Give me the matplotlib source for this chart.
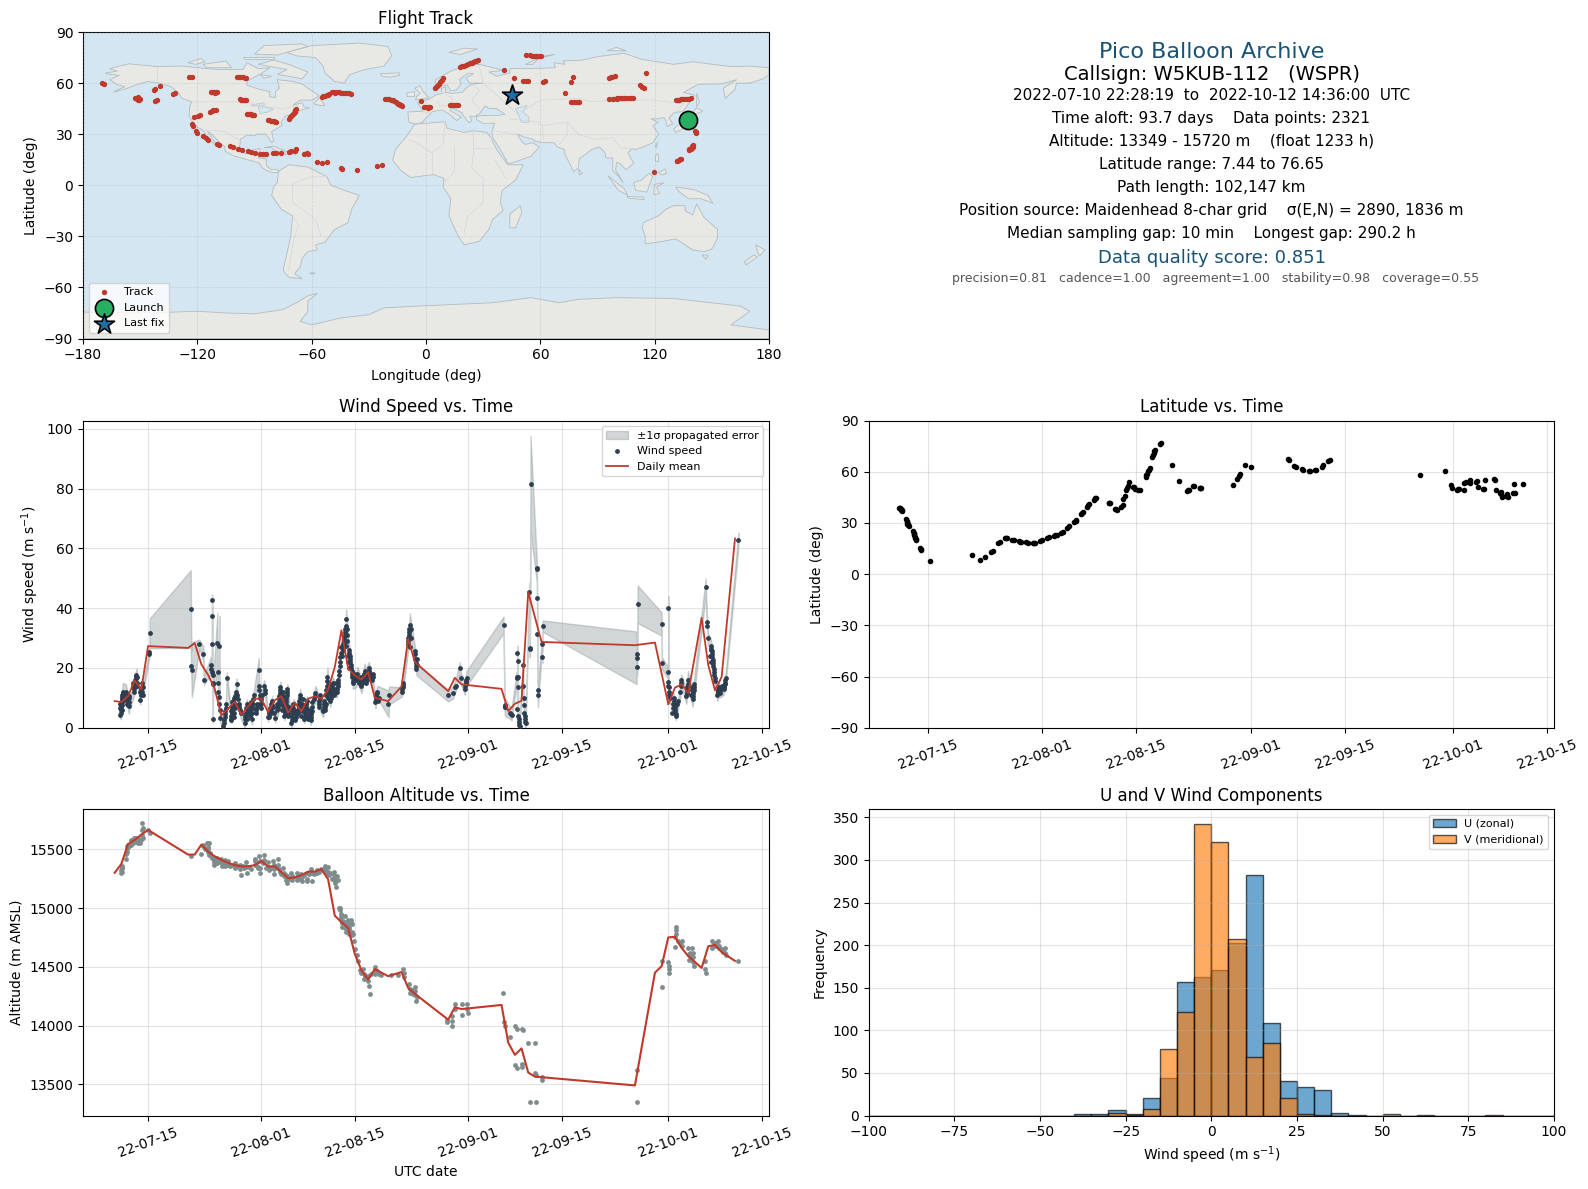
import datetime as dt
import numpy as np
import matplotlib
matplotlib.use('Agg')
import matplotlib.pyplot as plt
import matplotlib.dates as mdates

# --- Configuration ---
W, H = 1588, 1189
BASE = mdates.date2num(dt.datetime(2022, 7, 15))  # all time values are days since this date
RED = '#c0392b'
NAVY = '#2c3e50'
GREY = '#7f8c8d'
TITLE_BLUE = '#1a5276'

# --- Map outlines (lon, lat) ---
north_america = [(-168,66),(-162,67),(-166,68.5),(-156,71.3),(-141,69.7),(-128,70),(-115,68.5),(-108,68),(-96,68),(-94,72),(-88,68.5),(-82,69),(-86,66),(-94,61),(-94,58.8),(-88,56.5),(-82,55),(-82,52),(-79,51.5),(-79,55),(-77,57),(-78,62),(-70,61),(-65,59.5),(-62,57),(-56,52.5),(-60,50),(-66,50),(-70,47),(-65,48.5),(-64,46),(-61,45.5),(-66,44),(-70,43.5),(-70,41.7),(-74,40.5),(-76,37),(-75.5,35.2),(-81,31.5),(-80,26),(-81,25),(-82.8,28),(-84,30),(-89,30),(-90,29),(-94,29.5),(-97.3,27),(-97.8,22.5),(-95,18.5),(-91,18.7),(-90.5,21),(-87,21.5),(-88,16),(-84,15.5),(-83.5,11),(-81,9),(-79,9.5),(-77.3,8.5),(-78,7.3),(-80.5,7.5),(-83,8.3),(-85.7,10),(-87.5,13),(-92,14.5),(-96,15.7),(-101,17.3),(-105.5,20),(-105.5,22.5),(-109,26),(-112.5,30),(-114.7,31.7),(-112,27),(-109.7,23),(-112,25),(-115,29),(-117.2,32.5),(-120.6,34.5),(-122.5,37.5),(-124.3,40.3),(-124,46),(-123,49),(-128,51),(-130,54.5),(-134,58),(-140,60),(-146,61),(-152,59),(-158,56.5),(-164,54.7),(-158,58),(-162,59),(-166,62),(-161,64.5),(-168,65.5)]
south_america = [(-77,8.5),(-72,12),(-62,10.7),(-52,5),(-50,0),(-44,-2.5),(-35,-6),(-39,-14),(-41,-22),(-48,-26),(-53,-33.5),(-58,-35),(-57,-38),(-62,-39),(-65,-43),(-66,-48),(-69,-52),(-65,-55),(-72,-54),(-75,-50),(-73,-40),(-71,-30),(-70,-18),(-76,-14),(-81,-6),(-80,-1),(-78,2),(-77.5,7)]
africa = [(-6,35.8),(10,37.3),(11,33.5),(20,31),(25,32),(32,31),(34,28),(37,21),(43,12),(51,12),(47,3),(40,-3),(39,-10),(40.5,-15),(35,-20),(33,-26),(28,-33),(20,-35),(17,-30),(12,-18),(13,-8),(9,-1),(9.5,4),(4,6.3),(-8,4.5),(-13,8.5),(-17.5,14.7),(-16,21),(-10,29)]
eurasia = [(-9,37),(-9.5,43),(-1.5,43.5),(-4.5,48.5),(1.5,50.5),(5,53),(8.5,54),(8,57),(10.5,57.5),(10,54.5),(14,54),(19,54.5),(21,57),(24,59.3),(30,60),(23,60),(21,63),(25,65.5),(22,65.8),(17.5,62),(18.5,59.5),(16,56),(13,55.5),(11,59),(8,58),(5,60),(5,62),(13,67),(20,70),(28,71),(41,67.5),(33,66.5),(37,64),(44,66),(44,68.5),(55,68.5),(68,69),(67,72),(73,71),(72,73),(82,73.5),(90,75.5),(104,77.5),(113,74),(130,71),(140,72.5),(160,69.7),(170,70),(180,69),(180,65),(177,62.5),(170,60),(163,60),(162,56),(157,51),(156,57),(163,62),(155,59.5),(143,59.3),(135,54.5),(141,53),(135,43.5),(130,42.5),(127.5,39.5),(129.5,36),(126.5,34.5),(126,37.5),(125,39.7),(121,39),(118,39),(122,37),(119,35),(122,30),(119,25),(114,22.5),(110,21),(108,21.5),(106,19),(109,13),(105,9),(102,12.5),(100,13.5),(99.5,9),(103.5,1.5),(100.5,6),(98,8.5),(98,16),(94.5,16),(94,19),(91,22.5),(87,21),(80.5,15.5),(79.8,10),(77.5,8),(73,18),(72.5,21),(69,22.5),(67,25),(61.5,25),(57,26),(56,27),(51,28.5),(48,30),(50,26),(52,24),(56,25),(59.5,22.5),(55,17),(45,13),(43,13),(39,21),(35,28),(34.5,31),(36,36.5),(30,36.3),(26.5,38.5),(26.5,40.5),(31,41),(38,41),(41.5,41.7),(37,45),(33.5,45),(31,46.5),(28,42),(26,40.5),(23,40.5),(24,38),(22.5,36.7),(19.5,41),(19,42.5),(13.5,45.5),(12.5,44),(18.5,40),(16,38),(12,42),(8.5,44.2),(3.5,43.3),(0,39.5),(-2,36.8),(-5.5,36)]
australia = [(114,-22),(122,-18),(126,-14),(130,-12),(136,-12),(136,-15),(140,-17.5),(142,-11),(146,-19),(153,-26),(153,-31),(150,-37.5),(146,-39),(140,-38),(136,-35),(131,-31.5),(124,-33),(115,-34.5),(115,-30),(113.5,-25)]
antarctica = [(-180,-90),(-180,-74.5),(-145,-75),(-120,-74),(-105,-75),(-90,-75.5),(-75,-73),(-68,-69),(-62,-65),(-57,-63.5),(-62,-68),(-62,-74),(-66,-80),(-60,-82),(-45,-78),(-30,-76),(-22,-72),(-5,-71),(15,-70),(35,-69),(55,-66),(70,-69),(80,-67),(100,-66),(130,-66.5),(165,-71),(170,-74),(165,-78),(160,-82),(180,-85),(180,-90)]
greenland = [(-73,78),(-60,82),(-35,83.5),(-20,81.5),(-18,76),(-22,70),(-32,68),(-40,65),(-43,60),(-48,61),(-53,66),(-54,70),(-58,75),(-68,76)]
islands = [
    [(-80,73.5),(-72,71),(-62,66.5),(-65,62.5),(-72,64),(-78,65),(-73,68),(-88,71)],
    [(-117,71),(-105,73),(-102,69),(-115,69)],
    [(-90,77),(-85,82),(-65,83),(-62,81.5),(-78,76.5)],
    [(-125,72),(-118,74.5),(-116,72.5),(-121,71)],
    [(-96,75.5),(-80,75.5),(-80,74),(-95,74)],
    [(-59,47.7),(-56,51.5),(-53,47),(-55,46.8)],
    [(-87,65),(-81,64),(-85,62.8)],
    [(-85,22),(-80,23),(-74,20.2),(-78,19.9),(-82,22.5)],
    [(-74,19.8),(-69,19.5),(-68.5,18.3),(-74,18)],
    [(-5.5,50),(1.5,51.3),(-1.5,55),(-3,58.5),(-6,57),(-3,54),(-5,52)],
    [(-10,52),(-6,52.2),(-6,55),(-10,54.3)],
    [(-24,65.5),(-14,66),(-14,64.5),(-19,63.5),(-23,64)],
    [(52,71),(58,74),(68,77),(60,75.5),(56,71)],
    [(12,78),(20,80.5),(27,80),(18,76.8)],
    [(95,79),(105,79),(100,81)],
    [(142,54),(143.5,49),(142,46),(142,50)],
    [(130,33),(132,35.3),(137,37),(140,40),(141.5,41),(142,39),(140.5,35.5),(136,33.8),(131,31)],
    [(140,43),(142,45.5),(145.3,43.5),(142,42)],
    [(120.3,23),(121.5,25.2),(121,22)],
    [(120.3,16),(121,18.5),(122,18),(122,14),(120.5,14)],
    [(122,7.5),(125.5,9.5),(126.3,7),(124,6)],
    [(109,1.5),(113,3),(117,7),(119,5),(117.5,1),(116,-4),(110,-3)],
    [(95.5,5.5),(104,-2),(106,-6),(101,-3)],
    [(105.5,-6.5),(114,-7),(114.5,-8.5),(106,-7.5)],
    [(119.5,-5.5),(119.8,0.5),(125,1.5),(121,-1),(122.5,-5)],
    [(131,-1),(141,-2.7),(148,-6),(150.5,-10.5),(144,-7.8),(138,-8),(133,-4)],
    [(145,-41),(148,-41),(147,-43.5)],
    [(173,-35),(178,-38),(175,-41.5),(174,-39)],
    [(172,-41),(174,-42),(168,-46.7),(167,-45)],
    [(49.5,-12),(50.3,-16),(47,-25),(44,-25),(44,-17)],
    [(80,9.5),(82,7),(80.5,6)],
    [(-61,-51.5),(-58,-51.5),(-60,-52.3)],
]
lakes = [
    [(47,45),(53,47),(51,43),(54,40),(54,37),(50,37),(49,40)],
    [(-92,47),(-85,48.5),(-85,46.8),(-90,46.5)],
    [(-88,46),(-84,46),(-80,44.5),(-83,43),(-87,42)],
]
borders = [
    [(-141,69.7),(-141,60)], [(-123,49),(-95,49),(-83,46),(-75,45),(-67,47)],
    [(-117,32.5),(-106,31.7),(-97,26)], [(-70,-18),(-67,-23),(-70,-35),(-72,-50)],
    [(-52,5),(-60,5),(-70,1),(-70,-10),(-58,-20),(-55,-30)], [(-2,43),(3,42.5)],
    [(6,49),(7,47),(13,47),(14,51),(8,54.5)], [(24,59),(28,56),(24,50),(28,45)],
    [(28,70),(30,60),(40,50),(48,42)], [(48,42),(60,50),(80,51),(87,49),(98,50),(118,50),(135,48),(131,43)],
    [(74,37),(80,30),(88,27),(98,28),(102,22),(108,21.5)], [(62,25),(61,35),(74,37),(74,30),(70,24)],
    [(25,32),(25,20),(24,10),(30,4),(30,-10),(22,-18),(20,-28)], [(10,37),(9,24),(3,19),(-5,25),(-9,27)],
    [(3,19),(3,6)], [(15,23),(15,8),(10,2)], [(34,22),(25,22)], [(36,15),(42,4)],
    [(36,32),(46,30),(48,30)], [(44,39),(60,37),(61,35)],
]

# --- Track (lon, lat), launch and last fix ---
track_lon = [141.8,141.5,141.3,139.9,139.4,138.9,138.4,137.8,133.8,132.8,131.8,119.8,
             -23,-25.7,-36.2,-44.7,-44.3,-54.8,-52,-57.4,-61.8,-64,-62.5,-68,-68.5,-72,-70.6,-76,-78.6,-80.5,-83.9,-85.5,-87,-89.5,-91.8,-93.5,-96.5,-98.4,-102.9,-101.5,-109.5,-108.5,-115.6,-114.5,-116.8,-120.4,-120.9,-122.2,-122.6,-121.6,-119.5,-118.7,-111.6,-112.5,-110.3,-113.3,
             -169.8,-168.8,-152.6,-151.3,-150,-150.9,-142,-141,-142,-142.5,-139.4,-132.8,-131.8,-124.3,-123,
             -112.7,-111.5,-110.5,-109.5,-99,-97.5,-96,-94.4,-97.6,-96.5,-95.5,-94.4,-94,-92.5,-91.5,-90.5,
             -83,-81.5,-80,-78.6,-72,-71,-70,-69,-68,-54.8,-53,-51.5,-50.8,-49.5,-47.5,-45.5,-43.5,-41.5,-39.4,
             -21.7,-19.5,-17.5,-16,-14.5,-13.5,-12.4,-2.4,-0.5,1,2.1,12.7,14,15.5,16.7,4.8,5.8,6.8,7.8,8.7,18,20,22,24,25.5,27.2,
             41,46.3,51,52.3,53.7,52.4,54.5,56.5,58.5,60.3,61.6,62.2,72.8,76.2,77,76.2,77.8,79.2,80.2,
             96,97.5,99.2,96,98,100,102,104,106.5,108.7,112.4,113.5,114.5,115.3,131.2,133,135,137,138.9,
             -111.9,-110,-98,-95.2,-97,-95,-93.2,-92,-91,-82.2,-80.8,-79.3,-71.5,-70.5,-69.5,-68.5,-54,-52,-48.5,-46.5,-44.5,-42.5,-40.5,-20.5,-18.5,-16.7,-15.2,-14,-13,5.3,6.3,7.3,8.2,19,21,23,24.7,26.3,55.5,57.5,59.4,97,98,100,101,103,105,107.5,132,134,136,138,-151.8,-150.5,13.3,14.8,16,-1,0.3,1.5,
             141.9,140,139.6,138.2,133.3,131.9]
track_lat = [30.5,31.2,32,22.6,22,21.4,21,20.7,15.7,15,14.4,7.5,
             11.8,11.4,8.7,10.2,9.7,13.1,13.4,13.9,18.6,18.6,19,21,20.2,19.7,20,19,19,18.8,18.6,18.3,18.2,18.8,19.4,20,20.7,21,22.9,22.3,24,23.6,27.5,26.7,28.8,30.7,31.8,34.6,36,40,40.6,41.2,44,43.6,44.4,43.2,
             60,59.6,51,50.2,50.5,52,49.5,49.8,56.5,55.8,58.4,53.4,54.3,63.7,63.7,
             55,54.6,54.2,54.8,63.7,63.5,63.3,63.2,50.5,50.2,50,49.8,41.8,41.6,41.5,41.4,
             38.5,38,37.5,37.1,39.2,40.5,41.8,43.3,45,51.8,52.5,53,53.7,54.9,54.2,54.8,54,54.4,53.7,
             50.9,50.5,49.8,49,48,47.3,46.5,49.2,45.7,45.6,45.7,47.3,47,47.2,47.3,56.9,58.3,59.7,61.2,62.7,69.4,70.3,71.2,72,72.7,73.3,
             67.4,63.1,61.4,61.3,61.4,76.6,76.2,76,75.9,75.8,60.4,61,54.3,60.8,63.7,48.9,49,48.9,48.9,
             63.2,63.6,64.1,50.9,50.7,51,51.2,51.3,51.2,51.4,58.7,57.9,57.1,65.9,50.2,50.3,50.5,50.7,51,
             54.8,54.5,63.6,63.2,50.3,50.1,41.7,41.6,41.4,38.2,37.7,37.3,39.8,41.2,42.5,44.2,52.2,52.8,54.5,54.5,54.2,54.2,54,50.7,50.1,49.4,48.5,47.7,46.9,57.6,59,60.5,62,69.8,70.8,71.6,72.3,73,76.1,76,75.8,63.4,50.8,50.9,51.1,51.2,51.3,51.3,50.2,50.4,50.6,50.9,50.6,50.3,47.1,47.1,47.2,45.7,45.7,45.7,
             31,23.5,22.9,21,15.3,14.3]
launch_lon, launch_lat = [137.3], [38.5]
last_lon, last_lat = [45.0], [53.0]

# --- Wind speed samples: time, speed, 1 sigma ---
wind_t = [-4.15,-4.12,-4.09,-4.06,-4.03,-4.0,-3.96,-3.92,-3.88,-3.83,-3.78,-3.72,
          -3.3,-3.22,-3.15,-3.08,-3.0,-2.93,-2.86,-2.78,
          -2.12,-2.06,-2,-1.95,-1.9,-1.85,-1.8,-1.74,
          -1.16,-1.1,-1.05,-1,-0.95,-0.9,-0.84,
          0.18,0.22,0.26,
          6.4,6.5,6.56,
          7.7,8.3,8.38,9.45,9.5,
          9.55,9.6,9.62,9.65,9.68,9.72,9.76,9.8,
          10.4,10.45,10.5,10.55,10.6,10.65,10.7,10.75,10.8,
          11.3,11.4,11.45,11.5,11.55,11.6,11.65,11.7,11.8,
          12.5,12.58,12.65,12.72,12.78,12.85,
          13.1,13.2,13.3,13.4,13.5,13.6,13.7,13.8,13.9,
          14.5,14.55,14.6,14.65,14.7,14.8,
          15.6,15.65,15.7,15.75,15.8,15.9,
          16.6,16.65,16.7,16.75,16.8,16.85,17.4,17.5,17.6,
          18.0,18.15,18.3,18.45,18.6,18.75,18.9,19.05,
          19.5,19.55,19.6,19.65,19.7,19.75,19.8,19.85,
          20.4,20.5,20.55,20.6,20.65,20.7,20.75,20.8,20.85,20.9,
          21.5,21.55,21.6,21.65,21.7,21.75,21.8,
          22.5,22.55,22.6,22.65,22.7,22.75,22.8,
          23.4,23.5,23.55,23.6,23.65,23.7,23.8,
          24.4,24.45,24.5,24.55,24.6,24.65,24.9,25,25.1,
          26.2,26.3,26.35,26.4,26.45,26.7,26.75,26.8,26.85,26.9,
          27.3,27.4,27.45,27.5,27.55,27.6,27.7,
          28.3,28.4,28.45,28.5,28.55,28.6,28.7,28.75,28.8,28.85,28.9,28.95,
          29.3,29.35,29.4,29.45,29.5,29.55,29.6,29.65,29.7,
          30.1,30.2,30.25,30.3,30.35,30.4,30.5,30.55,30.6,30.65,30.7,
          31.2,31.3,31.4,
          32.0,32.1,32.2,32.3,32.4,32.5,32.6,
          33.1,33.2,33.3,33.4,33.5,33.6,
          34.1,34.15,34.2,34.25,34.3,34.4,
          36.05,36.15,
          38.1,38.15,38.2,38.25,38.3,
          38.95,39,39.05,39.1,39.15,39.2,39.25,
          40,40.05,40.1,40.15,40.2,40.25,
          45,45.7,46,46.1,46.75,46.85,
          47.5,47.55,47.6,47.65,47.7,47.75,
          53.3,53.45,53.5,53.55,
          54.3,54.4,54.5,
          55.25,55.3,55.35,55.38,55.4,55.43,55.46,55.5,55.55,55.6,55.65,55.7,
          56.2,56.25,56.3,56.35,56.4,56.45,56.5,56.55,56.6,
          57.15,57.2,57.25,57.35,
          58.25,58.28,58.33,58.38,58.42,58.46,
          59.05,59.1,59.15,
          73.25,73.3,73.33,73.4,
          77,77.05,77.9,77.95,78,78.02,78.05,78.1,78.15,78.2,
          78.8,78.85,78.9,78.95,79,79.05,79.1,79.15,
          79.8,79.85,79.9,79.95,
          80.7,80.75,80.8,80.85,80.9,80.95,
          81.65,81.7,81.75,81.8,81.85,81.9,
          83.6,83.8,83.85,83.9,
          84.4,84.45,84.5,84.55,84.6,84.65,84.7,84.75,84.8,84.85,84.9,84.95,85,
          85.35,85.4,85.45,85.5,85.55,85.6,85.65,
          86.3,86.35,86.4,86.45,86.5,86.55,86.6,
          88.5]
wind_v = [4.3,5,5.8,6.6,7.4,8,8.8,9.6,10.4,11,11.6,12,
          12,11,10,9.2,8.4,7.6,7.2,8.5,
          12,13,14,15,15.8,16.5,17.2,17.8,
          9.3,11,12,12.8,13.5,15,12,
          24.8,25.4,31.6,
          39.7,20.8,19.4,
          28,24.7,15.8,21,19.5,
          18.5,42.7,37.3,28,17.5,3,15,14.5,
          28.4,18.8,15,12.1,10.3,8,27.5,6,3.3,
          0.5,1.5,2.5,3.5,4.5,5.5,6.5,8,16.5,
          3,4.5,6,7.5,9,10,
          10.5,12,14.5,11,9.5,8,7,6,5,
          1.5,3,4,5,6.5,8,
          3,5,6.5,8,9.5,11,
          19.4,14,12.5,11,10,8,14,12.5,11.5,
          3.5,5,6.5,8,9,7,5,3.2,
          6.5,7.5,8.5,9.5,10.5,11.5,12.5,13.5,
          4,5,6,7,8,9,10,11,12,13,
          1.5,2.5,3.5,4.5,5.5,6.5,8,
          5,6,7,8,9,10,11,
          3,4,5,6,7,8,9,
          2.5,3.5,4.5,5.5,7,8.5,9.5,10.5,11.5,
          5.5,6,7,8,9,11,12.5,14,15.5,17,
          9,10,11,12,13,14,15,
          12,13,14,15,16,17.5,19,20.5,22,23.5,25,27,
          27,28,29,30,31,32,33,34,36.4,
          26,25,24,23,22,21,20,19,18,17,15.5,
          16,17,18,
          14,15,16,17,18,19,17,
          20,19,18,17,16.5,16,
          8.5,9.5,10.5,11,11.5,12,
          8,10.8,
          12,12.8,13.5,14.2,15,
          28,29,30,31,32,33,34.3,
          25.5,24.5,23,21.5,20.5,19.5,
          10.8,11.7,13.5,14,20,16.7,
          13,13.8,14.5,15.2,16,16.5,
          34.4,7.5,7,6.8,
          5,4.7,4.4,
          16.5,16.8,6.3,25,22.3,17,13.5,4,3,2,1,0.5,
          21,13.9,10,7.6,5,4,3,2,1.5,
          45.4,26.5,26.8,81.6,
          53.4,53.2,43.4,31.4,12.7,10.9,
          28,23.6,34,
          23.4,24.7,20.3,41.3,
          34.7,21.6,18.6,15.3,14,40,13.5,12,11,10,
          10,9,8,7,6,5,4.5,4,
          12,14,15,15.8,
          10.5,11.5,12.5,13.5,14.5,16,
          9.5,10.5,11.5,12.5,13.5,14.5,
          47,35.4,34,30,
          27.5,26.5,25.5,24.5,23.5,22.5,21.5,20.5,19.5,18.5,17.5,16.5,15.5,
          11,11.5,12,12.5,13,13.5,12,
          13,13.5,14,14.5,15,15.8,16.5,
          62.8]
wind_e = [1.5,2,2,2.5,2.5,2.5,2.5,2.5,2.5,3,3,3,
          2.5,2.5,2.5,2.5,2.5,2.5,2.5,2.5,
          1.5,1.5,1.5,1.5,2,2,2,2,
          1.5,1.5,1.5,1.5,1.5,1.5,1.5,
          1.5,1.5,5,
          13,5,9.2,
          1.5,2.5,1.5,3,3,
          2,2,3,8,2,1.5,3,3,
          10,3,2,2,2,2,10,2,1.5,
          1.5,1.5,1.5,1.5,1.5,1.5,1.5,1.5,2,
          1.5,1.5,1.5,1.5,1.5,1.5,
          2,2,2,2,2,2,2,2,2,
          1.5,1.5,1.5,1.5,1.5,1.5,
          2,2,2,2,2,2,
          4,2,2,2,2,2,2,2,2,
          1.5,1.5,1.5,1.5,1.5,1.5,1.5,1.5,
          2,2,2,2,2,2,2,2,
          1.5,1.5,1.5,1.5,1.5,1.5,1.5,1.5,1.5,1.5,
          1.5,1.5,1.5,1.5,1.5,1.5,1.5,
          2,2,2,2,2,2,2,
          1.5,1.5,1.5,1.5,1.5,1.5,1.5,
          1.5,1.5,1.5,1.5,1.5,1.5,2,2.5,2.5,
          2,2,2,2,2,3,3,3,3,3,
          2,2,2,2,2,2,2,
          2,2,2,2,2,2,2,2,2,2.5,2.5,2.5,
          2.5,2.5,2.5,2.5,2.5,2.5,2.5,2.5,3.2,
          2.5,2.5,2.5,2.5,2.5,2.5,2.5,2.5,2.5,2.5,2.5,
          2.5,2.5,2.5,
          2.5,2.5,2.5,2.5,2.5,2.5,2.5,
          2,2,2,2,2,2,
          2,2,2,2,2,2,
          4.5,3,
          1.5,1.5,1.5,1.5,1.5,
          3,3,3,3,3,3,4,
          2,2,2,2,2,2,
          2,2,2,2,2,2,
          2,2,2,2,2,2.5,
          2.8,2,3,3,
          2,2,2,
          2,2,2,2.5,2,2,2,2,2,2,2,2,
          2,2,2,2,2,2,2,2,2,
          3,3,3,16,
          4,4,4,3,3,4,
          2,2,1.9,
          8.8,2,3,6.3,
          3.9,2,2,2,2,4,2,2,2,2,
          1.5,1.5,1.5,1.5,1.5,1.5,1.5,1.5,
          2,2,2,2,
          2.5,2.5,2.5,3,3,3,
          2.5,2.5,2.5,2.5,2.5,2.5,
          3,2,2,2,
          2,2,2,2,2,2,2,2,2,2,2,2,2,
          2,2,2,2,2,2,2,
          2,2,2,2,2,2,2,
          2.5]
# extra samples inside the dense columns (drawn as dots, no band)
wind_dense_t = [12.4,12.45,12.5,12.55,12.6,12.9,12.95,13,13.05,14.9,14.95,15,15.05,15.3,15.35,15.4,15.45,16.2,16.25,16.3,16.35,16.9,16.95,17,17.05,
                18.2,18.3,18.4,18.5,18.6,19.3,19.35,19.4,20.1,20.15,20.2,20.25,20.3,21,21.05,21.1,21.15,22.1,22.15,22.2,22.25,23,23.05,23.1,23.15,23.2,24,24.05,24.1,24.15,
                25.6,25.65,25.7,25.75,25.8,26.55,26.6,26.65,27.05,27.1,27.15,27.2,27.9,28,28.1,28.15,29.1,29.2,29.25,29.75,29.8,29.85,29.9,30,30.05,30.15,30.8,30.85,30.9,30.95,
                31.7,31.8,31.9,32.7,32.8,32.9,33,33.7,33.8,34.5,34.6,39.3,39.4,39.5,40.3,40.4,
                -3.85,-3.9,-3.8,-3.75,-4.25,-4.2,-3.2,-3.1,-2.9,-2.8,-2.2,-2.25,-1.7,-1.65,-1.7,-1.2,-0.8,-0.8,
                78.6,78.7,78.75,79.3,79.4,81.4,81.5,81.55,85.7,85.8,85.9,86,84.3,84.35,84.4]
wind_dense_v = [2.5,4,5.5,7,8.5,3.5,5,6.5,8,3,4.5,6,7.5,4,5.5,7,8.5,5,6,7,8,6.5,8,9.5,11,
                3.5,4.5,5.5,6.5,7.5,6,7,8,6,7.5,9,10.5,12,4,5,6,7,2.5,3.5,4.5,5.5,4,5.5,7,8,9.5,3,4,5,6,
                7,8,9,10,11,6,7,8,10,11.5,13,14.5,11,12,13,15,24,26,28,27.5,29,31,33,24,22,20,15,16,17,18,
                15,16,17,15,16,17,18,17,18,9,10,27,30,33,21,23,
                6,7.5,9,10,6.5,8,8,11,10,10.5,14,15,15,14,17,12,13.5,11,
                5,6.5,8,8,9,11,12.5,13.5,11.5,12.5,13,14,24,26,22]
wind_mean_days = [-5,-4,-3,-2,-1,0,6,7,8,9,10,11,13,14,16,17,18,19,20,21,22,23,24,25,26,27,28,29,30,31,32,33,34,36,38,39,40,45,46,47,53,54,55,56,57,59,73,76,78,79,80,81,83,84,85,86,88]
wind_mean = [8.9,8.6,10.5,15.8,12.8,27.3,26.7,28.3,21.2,17.7,13,4.1,8.6,4.5,9.7,9.7,5.2,9.2,10.5,5,8.4,5.5,9.7,10.5,9.7,12.8,20.3,32.6,19.8,17.5,16.1,18.6,10,8.9,13.8,29.8,22,12.2,16.7,14.5,13,5.6,8,9,45.4,28.7,27.6,28.5,7.8,13.4,14.5,11.6,36.8,20.9,12.5,17,63.3]

# --- Latitude samples ---
lat_t = [-4.2,-4.1,-4,-3.9,-3.8,-3.2,-3.1,-3,-2.9,-2.8,-2.1,-2,-1.9,-1.8,-1.7,-1.1,-0.9,0.3,
         6.6,7.8,8.5,9.5,9.7,10.5,10.7,11.5,11.8,12.5,12.8,13.6,13.9,14.6,14.9,15.7,16,16.7,17,17.7,18,18.8,19.2,19.8,20.1,20.7,21,21.8,22.1,22.8,23.1,23.7,24,24.7,25,
         26.9,27.1,27.8,28.1,28.8,29,29.1,29.7,29.9,30.6,30.8,31.3,31.6,32.4,32.6,32.8,33,33.5,33.6,33.8,34.6,36.3,37.4,38.5,38.8,39.5,40.4,40.6,
         45.3,46,46.2,46.4,47.1,48.1,53.5,53.7,54.5,54.7,55.6,55.8,56.6,56.8,57.5,57.7,58.6,58.8,59.5,59.7,
         73.2,76.8,77.7,77.9,78.7,78.9,79.7,79.9,80.6,81.5,81.7,82.5,82.8,84.2,84.4,85,85.1,85.3,85.9,86.1,86.9,87.1,88.4,
         -4.15,-3.85,-3.05,-2.95,-2.05,-1.95,-1.75,-1,11.6,13.75,15.85,19,22,23,23.9,24.9,26.95,27.95,29.3,29.5,29.6,30.5,32.5,32.9,33.4,33.7,34.7,38.65,39.6,40.5,78.8,79.6,80.5,81.6,82.6,84.3,85.2,86.2,87.2]
lat_v = [39,38.6,38,37.6,37,32,31,29.6,29,28,25,23.6,22,21,20,15.2,14.4,7.6,
         11.3,8.4,10,13,13.8,18.2,18.6,21.4,21,20,19.8,19.2,18.8,18.6,18.4,18.2,18.4,19.2,19.8,21.2,21.9,22.6,23,23.8,24.4,27,28.4,30.6,31.6,35,36.6,39.6,41,43.4,44.6,
         41.8,41.4,38.2,37.6,39.4,40.6,44,51.6,53.8,50.8,49.8,49.2,49.4,57,58.6,60.6,62,69.5,71,73,76.4,63.7,54.7,48.8,49.2,51.4,50.6,50.4,
         52.4,55.6,57.2,58.8,64,63,67.6,66.8,63.4,62.6,61.8,61.2,60.6,60.4,60.8,61,63,64,66,66.6,
         57.8,60.2,52,50.6,49,50,53.6,54.2,55,54.2,50.8,49.8,55.1,55.6,49,47.6,46.8,45.2,45.6,47,47.8,52.8,52.8,
         38.8,37.4,30.3,29.3,24.3,22.8,20.5,14.8,21.2,19,18.3,22.8,31,36,40.5,44.3,41.6,38,46,49,50.5,51,58,61,68.5,72,76.7,49,51.5,50.5,49.6,49,53.4,54.6,50,55.3,48,45.3,47.5]

# --- Altitude samples ---
alt_t = [-4,-3.98,-3.94,-3.9,-3.3,-3.25,-3.2,-3.15,-3,-2.95,
         -2.6,-2.4,-2.2,-2,-1.8,-1.6,-1.4,-1.2,-1,-0.95,-0.9,-0.85,-0.8,0.05,0.3,
         6.5,8,8.2,8.3,8.9,8.95,9,9.05,9.1,9.2,
         9.8,9.85,9.9,9.95,10.3,10.35,10.4,11,11.05,11.1,11.5,11.55,11.6,12,12.05,13,13.05,13.1,13.8,13.85,13.9,14.7,14.75,14.8,
         16,16.05,16.1,16.7,16.75,16.8,16.85,17.4,17.45,18,18.05,18.1,18.8,18.85,18.9,18.95,19.5,19.55,19.6,
         20.3,20.35,20.4,20.7,20.75,20.8,21.5,21.55,21.6,22.3,22.35,22.4,23,23.05,23.1,23.8,23.85,23.9,24.5,24.55,24.6,25.3,25.35,
         26.5,26.55,26.6,26.65,27,27.05,27.1,27.9,27.95,28,28.05,28.1,28.15,28.4,28.45,
         28.8,28.85,28.9,28.95,29,29.05,29.1,29.5,29.55,29.6,29.65,30,30.05,30.1,30.15,30.5,30.55,30.6,30.65,30.8,30.85,
         31.4,31.45,32.3,32.35,32.4,33,33.05,33.1,33.3,34,34.05,34.1,35,36.5,37.5,38.3,38.35,38.4,39.2,39.25,39.3,40,40.05,40.1,40.15,
         44.8,44.85,45.5,45.55,45.6,46,46.05,47,47.05,47.8,47.85,47.9,
         53.2,53.4,53.45,54.3,55,55.05,55.3,55.35,56,56.05,56.1,56.15,57,57.3,58,58.05,58.1,58.2,59,59.05,
         73.3,73.35,77,77.05,78,78.05,78.1,78.15,79,79.05,79.1,79.15,79.2,80,80.05,81,81.05,81.1,81.6,81.65,81.7,81.75,81.8,83.5,83.55,83.6,84.5,84.55,85.5,85.55,85.6,86.5,86.55,86.6,88.5,
         -3.95,-3.85,-3.1,-2.8,-2.5,-2.3,-2.1,-1.9,-1.7,-1.5,-1.3,-0.7,8.6,9.3,9.4,9.6,10,10.6,10.8,11.3,11.8,12.3,12.6,13.4,14.2,14.4,15.2,15.5,16.3,16.5,17.2,17.7,18.4,19.2,19.8,20,20.9,21.2,21.8,22.7,23.4,24.2,24.9,25.7,26,26.3,27.3,27.6,
         28.6,29.3,29.8,30.2,30.4,31,31.8,32,32.6,33.5,34.3,34.6,39.6,39.8,40.4,81.3,81.4,79.5,79.7,84.8,85,85.2,86,86.2]
alt_v = [15300,15320,15340,15360,15420,15460,15480,15500,15520,15540,
         15540,15560,15580,15600,15560,15600,15580,15550,15580,15620,15660,15720,15680,15660,15640,
         15440,15460,15530,15540,15550,15520,15500,15480,15450,15550,
         15430,15410,15390,15370,15430,15400,15380,15420,15390,15360,15410,15380,15360,15400,15370,15380,15360,15340,15370,15330,15280,15390,15350,15300,
         15420,15400,15370,15440,15400,15340,15300,15450,15410,15390,15350,15320,15400,15370,15330,15290,15420,15370,15330,
         15340,15300,15270,15280,15240,15210,15300,15270,15240,15300,15260,15240,15290,15260,15230,15300,15250,15230,15330,15300,15230,15320,15300,
         15360,15340,15320,15300,15350,15310,15280,15310,15280,15260,15230,15210,15180,15270,15240,
         15000,14980,14950,14920,14900,14870,14840,14930,14880,14830,14800,14900,14860,14820,14780,14900,14860,14800,14770,14780,14720,
         14600,14550,14480,14440,14400,14420,14380,14340,14270,14500,14470,14440,14430,14430,14430,14480,14450,14410,14350,14310,14280,14330,14290,14260,14210,
         14050,14030,14080,14040,14000,14180,14140,14180,14090,14180,14140,14110,
         14280,14030,14000,13900,13660,14000,13970,13640,13670,13650,13970,13960,13850,13350,13850,13600,13580,13350,13540,13560,
         13620,13350,14330,14550,14540,14510,14480,14450,14670,14750,14780,14810,14840,14720,14680,14660,14610,14560,14660,14620,14580,14540,14510,14550,14480,14450,14720,14660,14720,14680,14660,14660,14620,14600,14550,
         15310,15340,15530,15530,15580,15550,15600,15570,15590,15550,15590,15600,15500,15470,15440,15430,15420,15400,15390,15375,15370,15360,15365,15355,15360,15340,15350,15330,15360,15340,15380,15340,15340,15350,15310,15290,15270,15250,15260,15250,15280,15290,15290,15310,15330,15320,15300,15250,
         15000,14890,14870,14840,14880,14650,14470,14450,14420,14440,14460,14440,14300,14270,14240,14620,14580,14720,14700,14700,14680,14700,14650,14630]
alt_mean_days = [-5,-4,-3,-2,-1,0,6,7,8,9,10,11,12,13,14,15,16,17,18,19,20,21,22,23,24,25,26,27,28,29,30,31,32,33,34,36,38,39,40,45,46,47,53,54,55,56,57,58,59,73,76,77,78,79,80,81,83,84,85,86,88]
alt_mean = [15300,15375,15545,15580,15625,15665,15455,15455,15540,15480,15440,15410,15385,15365,15355,15355,15365,15400,15355,15355,15305,15255,15260,15280,15310,15310,15330,15245,14935,14880,14830,14610,14470,14390,14480,14420,14455,14320,14270,14050,14155,14140,14175,13855,13750,13805,13600,13565,13560,13490,14450,14505,14750,14755,14660,14590,14490,14675,14685,14625,14550]

# --- Wind component histogram ---
hist_edges = list(range(-100, 105, 5))
u_counts = [0]*12 + [2,2,7,2,20,44,157,162,171,202,282,108,40,33,30,3,1] + [0]*11
v_counts = [0]*14 + [3,1,8,78,121,342,321,207,69,85,21,2,1,0,0,0,2,0,1,0,0,0,1,0,0,0]

# --- Summary panel text ---
info_lines = [
    '2022-07-10 22:28:19  to  2022-10-12 14:36:00  UTC',
    'Time aloft: 93.7 days    Data points: 2321',
    'Altitude: 13349 - 15720 m    (float 1233 h)',
    'Latitude range: 7.44 to 76.65',
    'Path length: 102,147 km',
    'Position source: Maidenhead 8-char grid    σ(E,N) = 2890, 1836 m',
    'Median sampling gap: 10 min    Longest gap: 290.2 h',
]
info_y = [95.5, 118.5, 141.5, 164.5, 187.5, 210.5, 233.5]


def make_axes(left, right, top, bottom):
    return fig.add_axes([left / W, 1 - bottom / H, (right - left) / W, (bottom - top) / H])


def time_axis(ax, left, right):
    ax.set_xlim(BASE + left, BASE + right)
    ax.xaxis.set_major_locator(mdates.DayLocator(bymonthday=[1, 15]))
    ax.xaxis.set_major_formatter(mdates.DateFormatter('%y-%m-%d'))
    ax.tick_params(axis='x', rotation=20)
    ax.grid(True, color='#b0b0b0', alpha=0.35, lw=0.8)


fig = plt.figure(figsize=(W / 100, H / 100), dpi=100)

# Flight track
ax = make_axes(83, 769, 32, 338.5)
ax.set_facecolor('#d4e6f1')
for poly in [north_america, south_america, africa, eurasia, australia, antarctica, greenland] + islands:
    ax.fill(*zip(*poly), facecolor='#e8e8e4', edgecolor='#b3bcc0', lw=0.6, zorder=1)
for poly in lakes:
    ax.fill(*zip(*poly), facecolor='#d4e6f1', edgecolor='#b3bcc0', lw=0.4, zorder=1.1)
for line in borders:
    ax.plot(*zip(*line), color='#d6d8d6', lw=0.5, zorder=1.2)
ax.scatter(track_lon, track_lat, s=8, color=RED, zorder=3, label='Track')
ax.scatter(launch_lon, launch_lat, s=170, color='#27ae60', edgecolor='k', lw=1.2, zorder=5, label='Launch')
ax.scatter(last_lon, last_lat, s=230, marker='*', color='#1f6fa5', edgecolor='k', lw=1.2, zorder=5, label='Last fix')
ax.set_xlim(-180, 180)
ax.set_ylim(-90, 90)
ax.set_xticks(range(-180, 181, 60))
ax.set_yticks(range(-90, 91, 30))
ax.grid(True, color='#9aa5aa', alpha=0.3, lw=0.5, ls='--', zorder=2)
ax.set_axisbelow(False)
ax.set_title('Flight Track', fontsize=12)
ax.set_xlabel('Longitude (deg)', labelpad=5)
ax.set_ylabel('Latitude (deg)')
ax.legend(loc='lower left', fontsize=8)

# Summary text
cx = 1211.5 / W
fig.text(cx, 1 - 51.8 / H, 'Pico Balloon Archive', fontsize=16, color=TITLE_BLUE, ha='center', va='center')
fig.text(cx, 1 - 74 / H, 'Callsign: W5KUB-112   (WSPR)', fontsize=14, ha='center', va='center')
for line, y in zip(info_lines, info_y):
    fig.text(cx, 1 - y / H, line, fontsize=11, ha='center', va='center')
fig.text(cx, 1 - 258 / H, 'Data quality score: 0.851', fontsize=13, color=TITLE_BLUE, ha='center', va='center')
fig.text(1216 / W, 1 - 278.5 / H, 'precision=0.81   cadence=1.00   agreement=1.00   stability=0.98   coverage=0.55',
         fontsize=9, color='#555555', ha='center', va='center')

# Wind speed
ax = make_axes(83, 769, 420.5, 727.7)
t = BASE + np.array(wind_t)
v = np.array(wind_v)
e = np.array(wind_e)
ax.fill_between(t, v - e, v + e, color='#7f8c8d', alpha=0.35, lw=1, label='±1σ propagated error')
ax.scatter(np.concatenate([t, BASE + np.array(wind_dense_t)]), wind_v + wind_dense_v,
           s=6, color=NAVY, label='Wind speed', zorder=3)
ax.plot(BASE + np.array(wind_mean_days), wind_mean, color=RED, lw=1.3, label='Daily mean', zorder=4)
time_axis(ax, -9.75, 93.1)
ax.set_ylim(0, 102.8)
ax.set_title('Wind Speed vs. Time', fontsize=12)
ax.set_ylabel('Wind speed (m s$^{-1}$)')
ax.legend(loc='upper right', fontsize=8)

# Latitude
ax = make_axes(868.6, 1554, 420.5, 727.7)
ax.scatter(BASE + np.array(lat_t), lat_v, s=9, color='k', zorder=3)
time_axis(ax, -8.75, 93.04)
ax.set_ylim(-90, 90)
ax.set_yticks(range(-90, 91, 30))
ax.set_title('Latitude vs. Time', fontsize=12)
ax.set_ylabel('Latitude (deg)')

# Altitude
ax = make_axes(83, 769, 809, 1115.5)
ax.scatter(BASE + np.array(alt_t), alt_v, s=6, color=GREY, zorder=3)
ax.plot(BASE + np.array(alt_mean_days), alt_mean, color=RED, lw=1.5, zorder=4)
time_axis(ax, -9.75, 93.1)
ax.set_ylim(13234, 15843)
ax.set_yticks(range(13500, 15501, 500))
ax.set_title('Balloon Altitude vs. Time', fontsize=12)
ax.set_xlabel('UTC date')
ax.set_ylabel('Altitude (m AMSL)')

# U and V histogram
ax = make_axes(868.6, 1554, 809, 1115.5)
ax.hist(hist_edges[:-1], bins=hist_edges, weights=u_counts, alpha=0.65, color='#1f77b4', edgecolor='k', label='U (zonal)')
ax.hist(hist_edges[:-1], bins=hist_edges, weights=v_counts, alpha=0.65, color='#ff7f0e', edgecolor='k', label='V (meridional)')
ax.set_xlim(-100, 100)
ax.set_ylim(0, 359.8)
ax.grid(True, color='#b0b0b0', alpha=0.35, lw=0.8)
ax.set_title('U and V Wind Components', fontsize=12)
ax.set_xlabel('Wind speed (m s$^{-1}$)')
ax.set_ylabel('Frequency')
ax.legend(loc='upper right', fontsize=8)

fig.savefig('out.png', dpi=100)
